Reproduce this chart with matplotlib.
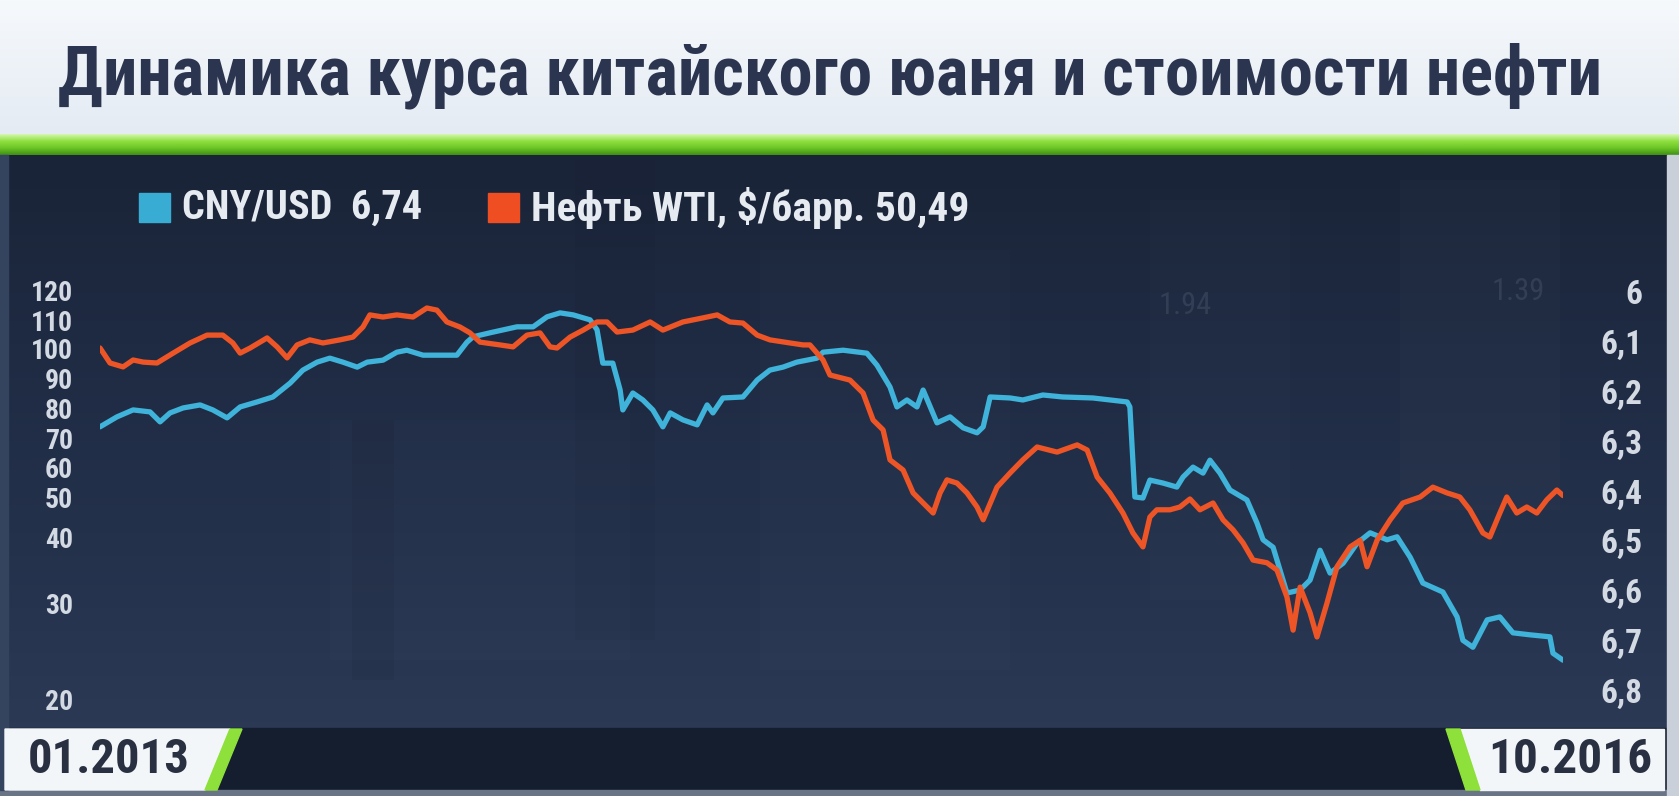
import numpy as np
import matplotlib
matplotlib.use('Agg')
import matplotlib.pyplot as plt
from matplotlib import font_manager
from matplotlib.patches import Rectangle, Polygon
from matplotlib.colors import LinearSegmentedColormap

# ---------------- data ----------------
title = 'Динамика курса китайского юаня и стоимости нефти'
legend_cny = 'CNY/USD  6,74'
legend_oil = 'Нефть WTI, $/барр. 50,49'
date_start = '01.2013'
date_end = '10.2016'

oil_t = [2013.000, 2013.026, 2013.060, 2013.086, 2013.112, 2013.148, 2013.190, 2013.234,
         2013.278, 2013.319, 2013.345, 2013.364, 2013.390, 2013.434, 2013.460, 2013.486,
         2013.512, 2013.545, 2013.579, 2013.623, 2013.657, 2013.683, 2013.701, 2013.735,
         2013.771, 2013.813, 2013.849, 2013.875, 2013.901, 2013.935, 2013.961, 2013.987,
         2014.039, 2014.073, 2014.109, 2014.143, 2014.169, 2014.187, 2014.221, 2014.255,
         2014.291, 2014.317, 2014.343, 2014.384, 2014.429, 2014.462, 2014.514, 2014.566,
         2014.603, 2014.636, 2014.670, 2014.707, 2014.740, 2014.792, 2014.826, 2014.844,
         2014.878, 2014.896, 2014.948, 2014.982, 2015.008, 2015.034, 2015.052, 2015.086,
         2015.112, 2015.138, 2015.164, 2015.182, 2015.200, 2015.226, 2015.252, 2015.278,
         2015.294, 2015.330, 2015.364, 2015.397, 2015.434, 2015.486, 2015.538, 2015.564,
         2015.590, 2015.623, 2015.657, 2015.683, 2015.709, 2015.727, 2015.745, 2015.779,
         2015.805, 2015.831, 2015.857, 2015.891, 2015.917, 2015.943, 2015.969, 2015.995,
         2016.031, 2016.057, 2016.083, 2016.099, 2016.117, 2016.143, 2016.161, 2016.187,
         2016.213, 2016.247, 2016.273, 2016.291, 2016.317, 2016.351, 2016.384, 2016.429,
         2016.462, 2016.499, 2016.532, 2016.558, 2016.592, 2016.610, 2016.636, 2016.654,
         2016.680, 2016.706, 2016.732, 2016.758, 2016.784, 2016.800]
oil_v = [100.0, 95.0, 93.7, 96.0, 95.3, 95.0, 98.3, 101.8,
         104.6, 104.6, 101.8, 98.3, 100.0, 103.6, 100.4, 96.7,
         101.1, 102.9, 101.8, 102.9, 103.9, 107.5, 111.7, 111.0,
         111.7, 111.0, 114.0, 113.3, 109.3, 107.5, 105.4, 102.1,
         101.1, 100.4, 104.6, 105.4, 100.4, 100.0, 103.9, 106.4,
         109.3, 109.3, 105.7, 106.4, 109.3, 106.4, 109.3, 110.7,
         111.7, 109.3, 108.9, 104.6, 102.9, 101.8, 101.1, 101.1,
         96.0, 91.0, 89.3, 85.0, 76.0, 72.7, 62.7, 59.3,
         51.4, 48.5, 46.0, 51.4, 55.9, 54.8, 51.4, 47.5,
         44.3, 53.4, 58.3, 62.7, 67.0, 65.3, 67.7, 66.0,
         56.9, 51.4, 46.0, 41.0, 38.5, 45.0, 46.8, 46.8,
         47.5, 49.5, 46.8, 48.5, 44.3, 41.8, 39.1, 36.5,
         36.1, 35.0, 30.9, 27.2, 32.4, 29.0, 26.5, 30.0,
         35.5, 38.5, 39.5, 35.5, 39.5, 44.3, 48.5, 50.0,
         53.4, 51.4, 50.0, 46.8, 41.0, 40.0, 46.0, 50.0,
         46.0, 47.5, 46.0, 49.3, 52.4, 50.5]

cny_t = [2013.000, 2013.044, 2013.086, 2013.130, 2013.156, 2013.182, 2013.216, 2013.260,
         2013.293, 2013.330, 2013.364, 2013.408, 2013.449, 2013.494, 2013.527, 2013.564,
         2013.597, 2013.631, 2013.668, 2013.694, 2013.735, 2013.771, 2013.797, 2013.839,
         2013.927, 2013.953, 2013.969, 2014.013, 2014.083, 2014.125, 2014.161, 2014.195,
         2014.229, 2014.273, 2014.291, 2014.306, 2014.332, 2014.351, 2014.358, 2014.384,
         2014.410, 2014.436, 2014.462, 2014.481, 2014.514, 2014.551, 2014.577, 2014.592,
         2014.618, 2014.670, 2014.707, 2014.740, 2014.774, 2014.810, 2014.862, 2014.878,
         2014.930, 2014.992, 2015.018, 2015.052, 2015.070, 2015.096, 2015.122, 2015.138,
         2015.174, 2015.208, 2015.242, 2015.278, 2015.294, 2015.312, 2015.364, 2015.397,
         2015.449, 2015.501, 2015.579, 2015.668, 2015.675, 2015.688, 2015.709, 2015.727,
         2015.761, 2015.797, 2015.813, 2015.839, 2015.865, 2015.883, 2015.909, 2015.935,
         2015.979, 2016.005, 2016.021, 2016.047, 2016.065, 2016.083, 2016.117, 2016.143,
         2016.169, 2016.195, 2016.229, 2016.265, 2016.299, 2016.343, 2016.369, 2016.403,
         2016.436, 2016.488, 2016.525, 2016.540, 2016.566, 2016.603, 2016.636, 2016.670,
         2016.714, 2016.766, 2016.774, 2016.800]
cny_v = [6.271, 6.251, 6.237, 6.241, 6.261, 6.243, 6.233, 6.227,
         6.237, 6.253, 6.231, 6.221, 6.211, 6.183, 6.157, 6.141,
         6.133, 6.141, 6.151, 6.141, 6.137, 6.121, 6.117, 6.127,
         6.127, 6.101, 6.090, 6.082, 6.070, 6.070, 6.050, 6.042,
         6.046, 6.056, 6.076, 6.143, 6.143, 6.197, 6.237, 6.203,
         6.217, 6.237, 6.271, 6.243, 6.257, 6.267, 6.227, 6.243,
         6.213, 6.211, 6.177, 6.157, 6.151, 6.141, 6.133, 6.121,
         6.117, 6.123, 6.147, 6.191, 6.231, 6.217, 6.231, 6.197,
         6.263, 6.251, 6.273, 6.283, 6.271, 6.211, 6.213, 6.217,
         6.207, 6.211, 6.213, 6.221, 6.231, 6.412, 6.414, 6.378,
         6.384, 6.392, 6.372, 6.352, 6.364, 6.338, 6.364, 6.398,
         6.418, 6.464, 6.498, 6.513, 6.559, 6.605, 6.599, 6.579,
         6.519, 6.565, 6.545, 6.505, 6.484, 6.498, 6.492, 6.533,
         6.585, 6.603, 6.653, 6.700, 6.714, 6.659, 6.653, 6.685,
         6.689, 6.693, 6.726, 6.740]

oil_ticks = [20, 30, 40, 50, 60, 70, 80, 90, 100, 110, 120]
oil_tick_labels = [str(v) for v in oil_ticks]
# the broadcaster's left scale is not uniform: relative height of each tick
oil_scale_pos = [0, 97, 163, 203, 232, 262, 292, 322, 352, 380, 410]
cny_ticks = [6.0, 6.1, 6.2, 6.3, 6.4, 6.5, 6.6, 6.7, 6.8]
cny_tick_labels = ['6', '6,1', '6,2', '6,3', '6,4', '6,5', '6,6', '6,7', '6,8']

# ---------------- fonts ----------------
available = {f.name for f in font_manager.fontManager.ttflist}
FONT = 'DejaVu Sans'
for cand in ['Liberation Sans Narrow', 'DejaVu Sans Condensed', 'Roboto Condensed',
             'Open Sans Condensed', 'Roboto', 'DejaVu Sans']:
    if cand in available:
        FONT = cand
        break
plt.rcParams['font.family'] = [FONT, 'DejaVu Sans']

W, H = 1679, 796
fig = plt.figure(figsize=(W / 100, H / 100), dpi=100)

# ---------------- background / frame ----------------
bg = fig.add_axes([0, 0, 1, 1], zorder=0)
bg.set_xlim(0, W)
bg.set_ylim(H, 0)
bg.axis('off')

title_cmap = LinearSegmentedColormap.from_list('t', ['#f6f9fc', '#e4ebf3'])
bg.imshow(np.linspace(0, 1, 100).reshape(-1, 1), extent=[0, W, 136, 0],
          aspect='auto', cmap=title_cmap, zorder=0)
green_cmap = LinearSegmentedColormap.from_list('g', ['#d6f7b0', '#8fe040', '#6cc626', '#3f8f14'])
bg.imshow(np.linspace(0, 1, 100).reshape(-1, 1), extent=[0, W, 155, 134],
          aspect='auto', cmap=green_cmap, zorder=1)
chart_cmap = LinearSegmentedColormap.from_list('c', ['#1a2438', '#1f2b43', '#24314b', '#2b3955'])
bg.imshow(np.linspace(0, 1, 100).reshape(-1, 1), extent=[0, W, 728, 155],
          aspect='auto', cmap=chart_cmap, zorder=1)
bg.add_patch(Rectangle((0, 728), W, 62, color='#151e2e', zorder=2))
bg.add_patch(Rectangle((0, 790), W, 6, color='#6a7487', zorder=2))
bg.add_patch(Rectangle((0, 155), 8, 635, color='#34445f', zorder=2))
bg.add_patch(Rectangle((1667, 155), 12, 641, color='#c9d0d9', zorder=2))

# faint ghost panels of the studio background
for (x0, y0, w, h, a) in [(330, 420, 300, 240, 0.012), (352, 420, 42, 260, -0.05),
                          (760, 250, 250, 420, 0.012), (1150, 200, 140, 400, 0.012),
                          (1400, 180, 160, 330, 0.015), (575, 160, 80, 480, -0.03)]:
    col = 'white' if a > 0 else 'black'
    bg.add_patch(Rectangle((x0, y0), w, h, facecolor=col, alpha=abs(a),
                           edgecolor='none', zorder=3))
bg.text(1185, 305, '1.94', color='#8a96a8', alpha=0.18, fontsize=22,
        ha='center', va='center', zorder=3)
bg.text(1518, 291, '1.39', color='#8a96a8', alpha=0.18, fontsize=22,
        ha='center', va='center', zorder=3)

renderer = fig.canvas.get_renderer()


def fit_width(txt, width_px):
    bb = txt.get_window_extent(renderer=renderer)
    txt.set_fontsize(txt.get_fontsize() * width_px / bb.width)


t_title = bg.text(830, 76, title, color='#2b3550', fontweight='bold', fontsize=40,
                  ha='center', va='center', zorder=5)
fit_width(t_title, 1540)

# legend
bg.add_patch(Rectangle((139, 193), 31, 29, color='#39acd4', zorder=5))
t_cny = bg.text(182, 208, legend_cny, color='#e6ebf1', fontweight='bold', fontsize=26,
                ha='left', va='center', zorder=5)
fit_width(t_cny, 240)
bg.add_patch(Rectangle((488, 193), 31, 29, color='#ef4e22', zorder=5))
t_oil = bg.text(531, 208, legend_oil, color='#e6ebf1', fontweight='bold', fontsize=26,
                ha='left', va='center', zorder=5)
fit_width(t_oil, 438)

# date boxes
bg.add_patch(Polygon([(5, 729), (230, 729), (205, 790), (5, 790)], closed=True,
                     color='#f3f6f9', zorder=5))
bg.add_patch(Polygon([(230, 729), (242, 729), (217, 790), (205, 790)], closed=True,
                     color='#8ee03a', zorder=5))
bg.add_patch(Polygon([(1460, 729), (1664, 729), (1664, 790), (1480, 790)], closed=True,
                     color='#f3f6f9', zorder=5))
bg.add_patch(Polygon([(1446, 729), (1460, 729), (1480, 790), (1466, 790)], closed=True,
                     color='#8ee03a', zorder=5))
t_d1 = bg.text(28, 760, date_start, color='#283041', fontsize=34, fontweight='bold',
               ha='left', va='center', zorder=6)
fit_width(t_d1, 162)
t_d2 = bg.text(1652, 760, date_end, color='#283041', fontsize=34, fontweight='bold',
               ha='right', va='center', zorder=6)
fit_width(t_d2, 164)

# ---------------- chart axes ----------------
ax = fig.add_axes([100 / W, (H - 700) / H, 1463 / W, 410 / H], zorder=4)
ax.patch.set_alpha(0)
ax2 = ax.twinx()
ax2.patch.set_alpha(0)
for a in (ax, ax2):
    for s in a.spines.values():
        s.set_visible(False)
ax.set_xlim(2013.0, 2016.8)
ax.set_xticks([])

# CNY (right scale, inverted)
ax.plot(cny_t, cny_v, color='#3fb3d9', lw=3.8, solid_joinstyle='round',
        solid_capstyle='round', zorder=3)
ax.set_ylim(6.82, 5.996)
ax.yaxis.tick_right()
ax.set_yticks(cny_ticks)
ax.set_yticklabels(cny_tick_labels)
ax.tick_params(axis='y', which='both', length=0, pad=57, labelsize=24,
               labelcolor='#d3dae3')
for lbl in ax.get_yticklabels():
    lbl.set_fontweight('bold')
    lbl.set_horizontalalignment('right')

# Oil (left, broadcaster's piecewise scale)
vals = np.array(oil_ticks, dtype=float)
pos = np.array(oil_scale_pos, dtype=float)


def _interp(x, xp, fp):
    x = np.asarray(x, dtype=float)
    out = np.interp(x, xp, fp)
    lo = x < xp[0]
    hi = x > xp[-1]
    out = np.where(lo, fp[0] + (x - xp[0]) * (fp[1] - fp[0]) / (xp[1] - xp[0]), out)
    out = np.where(hi, fp[-1] + (x - xp[-1]) * (fp[-1] - fp[-2]) / (xp[-1] - xp[-2]), out)
    return out


ax2.set_yscale('function', functions=(lambda v: _interp(v, vals, pos),
                                      lambda p: _interp(p, pos, vals)))
ax2.plot(oil_t, oil_v, color='#ee5526', lw=3.8, solid_joinstyle='round',
         solid_capstyle='round', zorder=3)
ax2.set_ylim(20, 120)
ax2.yaxis.tick_left()
ax2.set_yticks(oil_ticks)
ax2.set_yticklabels(oil_tick_labels)
ax2.minorticks_off()
ax2.tick_params(axis='y', which='both', length=0, pad=19.5, labelsize=20,
                labelcolor='#d3dae3')
for lbl in ax2.get_yticklabels():
    lbl.set_fontweight('bold')
ax2.set_xlim(2013.0, 2016.8)

fig.savefig('out.png', dpi=100)
